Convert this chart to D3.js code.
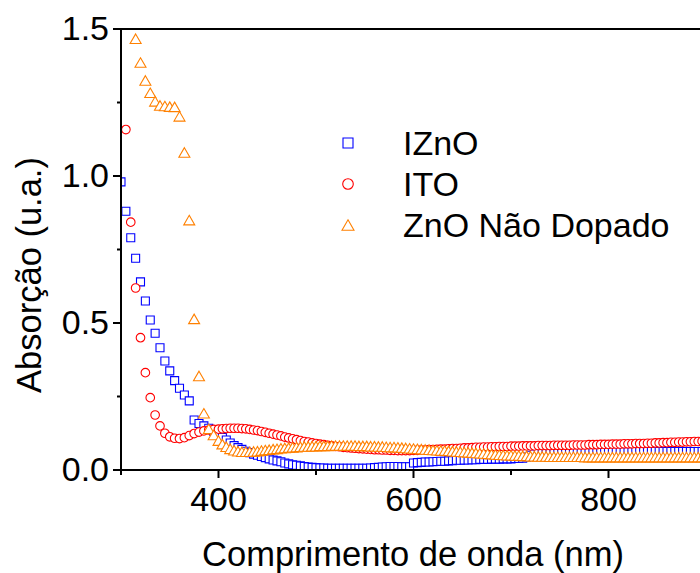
<!DOCTYPE html>
<html>
<head>
<meta charset="utf-8">
<script src="https://cdn.jsdelivr.net/npm/d3@7"></script>
<style>
  body { margin: 0; background: #fff; }
  text { font-family: "Liberation Sans", Arial, sans-serif; fill: #000; }
</style>
</head>
<body>
<div id="chart"></div>
<script>
// wavelengths (nm) - 5 nm steps up to 400, then 4 nm
const wavelength = [
  300,305,310,315,320,325,330,335,340,345,
  350,355,360,365,370,375,380,385,390,395,
  400,404,408,412,416,420,424,428,432,436,
  440,444,448,452,456,460,464,468,472,476,
  480,484,488,492,496,500,504,508,512,516,
  520,524,528,532,536,540,544,548,552,556,
  560,564,568,572,576,580,584,588,592,596,
  600,604,608,612,616,620,624,628,632,636,
  640,644,648,652,656,660,664,668,672,676,
  680,684,688,692,696,700,704,708,712,716,
  720,724,728,732,736,740,744,748,752,756,
  760,764,768,772,776,780,784,788,792,796,
  800,804,808,812,816,820,824,828,832,836,
  840,844,848,852,856,860,864,868,872,876,
  880,884,888,892,896,900
];

const izno = [
  0.98,0.88,0.79,0.72,0.64,0.575,0.51,0.465,0.416,0.371,
  0.337,0.304,0.278,0.255,0.235,0.170,0.158,0.150,0.142,0.132,
  0.121,0.111,0.102,0.092,0.083,0.076,0.070,0.064,0.059,0.054,
  0.050,0.046,0.042,0.038,0.034,0.031,0.028,0.024,0.021,0.018,
  0.016,0.014,0.012,0.010,0.009,0.008,0.007,0.007,0.006,0.006,
  0.006,0.006,0.006,0.006,0.006,0.006,0.006,0.006,0.006,0.007,
  0.008,0.009,0.010,0.011,0.012,0.012,0.012,0.011,0.011,0.011,
  0.024,0.025,0.026,0.027,0.027,0.028,0.029,0.030,0.030,0.031,
  0.032,0.033,0.033,0.034,0.034,0.035,0.035,0.036,0.036,0.036,
  0.037,0.037,0.037,0.038,0.038,0.038,0.039,0.039,0.040,0.044,
  0.050,0.055,0.059,0.061,0.061,0.061,0.061,0.061,0.062,0.062,
  0.062,0.062,0.062,0.062,0.062,0.062,0.062,0.062,0.062,0.062,
  0.062,0.062,0.062,0.062,0.062,0.062,0.062,0.063,0.063,0.063,
  0.063,0.063,0.063,0.063,0.063,0.063,0.063,0.063,0.063,0.063,
  0.063,0.063,0.063,0.063,0.063,0.063
];

const ito = [
  null,1.158,0.843,0.619,0.450,0.331,0.246,0.187,0.150,0.125,
  0.113,0.108,0.107,0.110,0.117,0.124,0.129,0.133,0.136,0.138,
  0.139,0.140,0.141,0.142,0.142,0.142,0.141,0.140,0.138,0.136,
  0.134,0.131,0.128,0.125,0.122,0.119,0.116,0.112,0.109,0.106,
  0.103,0.100,0.097,0.095,0.092,0.090,0.088,0.086,0.084,0.082,
  0.080,0.079,0.077,0.076,0.075,0.074,0.073,0.072,0.071,0.070,
  0.069,0.069,0.068,0.068,0.067,0.067,0.066,0.066,0.066,0.066,
  0.067,0.067,0.068,0.068,0.069,0.069,0.070,0.071,0.071,0.072,
  0.073,0.073,0.074,0.075,0.075,0.076,0.077,0.077,0.078,0.078,
  0.079,0.079,0.080,0.080,0.080,0.081,0.081,0.081,0.082,0.082,
  0.082,0.082,0.083,0.083,0.083,0.083,0.084,0.084,0.084,0.084,
  0.084,0.085,0.085,0.085,0.085,0.086,0.086,0.086,0.087,0.087,
  0.087,0.088,0.088,0.088,0.089,0.089,0.089,0.090,0.090,0.090,
  0.091,0.091,0.092,0.092,0.093,0.093,0.094,0.094,0.095,0.095,
  0.096,0.096,0.097,0.097,0.098,0.099
];

const znoPuro = [
  null,null,null,1.467,1.386,1.325,1.283,1.254,1.240,1.238,
  1.236,1.235,1.203,1.080,0.850,0.514,0.320,0.193,0.140,0.119,
  0.100,0.088,0.079,0.072,0.067,0.064,0.062,0.062,0.062,0.063,
  0.064,0.066,0.068,0.069,0.071,0.072,0.074,0.075,0.076,0.077,
  0.078,0.079,0.080,0.080,0.081,0.081,0.082,0.082,0.082,0.083,
  0.083,0.083,0.083,0.083,0.083,0.083,0.082,0.082,0.082,0.081,
  0.081,0.080,0.080,0.079,0.078,0.078,0.077,0.076,0.075,0.074,
  0.073,0.072,0.071,0.070,0.069,0.068,0.067,0.066,0.066,0.065,
  0.064,0.063,0.062,0.061,0.060,0.059,0.058,0.057,0.056,0.055,
  0.054,0.053,0.052,0.051,0.050,0.050,0.049,0.049,0.048,0.048,
  0.047,0.047,0.046,0.046,0.046,0.045,0.045,0.045,0.045,0.045,
  0.045,0.045,0.045,0.045,0.044,0.044,0.044,0.044,0.044,0.044,
  0.044,0.044,0.044,0.044,0.044,0.044,0.044,0.044,0.044,0.044,
  0.044,0.044,0.044,0.044,0.044,0.044,0.044,0.044,0.044,0.044,
  0.044,0.044,0.044,0.044,0.044,0.044
];

const seriesNames = ["IZnO", "ITO", "ZnO Não Dopado"];
const seriesColors = ["#0000ff", "#ff0000", "#ff8000"];
const seriesShapes = ["square", "circle", "triangle"];
const xTicks = [400, 600, 800];
const yTicks = [0, 0.5, 1.0, 1.5];

const margin = { top: 29, left: 121 },
    width = 585,
    height = 441;

const svg = d3.select("#chart")
    .append("svg")
    .attr("width", 700)
    .attr("height", 573);

const g = svg.append("g")
    .attr("transform", `translate(${margin.left},${margin.top})`);

const x = d3.scaleLinear().domain([300, 900]).range([0, width]);
const y = d3.scaleLinear().domain([0, 1.5]).range([height, 0]);

g.append("clipPath").attr("id", "plot-clip")
    .append("rect")
    .attr("x", 0).attr("y", 0)
    .attr("width", width).attr("height", height);

// marker path centred on the point
function marker(shape, s) {
    if (shape === "square") return `M${-s/2},${-s/2}h${s}v${s}h${-s}Z`;
    if (shape === "circle") return d3.symbol(d3.symbolCircle, Math.PI * s * s / 4)();
    const h = s * Math.sqrt(3) / 2;
    return `M0,${-h/2}L${s/2},${h/2}L${-s/2},${h/2}Z`;
}
const markerSize = [8, 8.6, 11];

const plot = g.append("g").attr("clip-path", "url(#plot-clip)");

[izno, ito, znoPuro].forEach((vals, i) => {
    const pts = wavelength.map((w, j) => ({ w: w, v: vals[j] })).filter(d => d.v !== null);
    plot.append("g").selectAll("path")
        .data(pts)
        .enter().append("path")
        .attr("transform", d => `translate(${x(d.w)},${y(d.v)})`)
        .attr("d", marker(seriesShapes[i], markerSize[i]))
        .attr("fill", "#fff")
        .attr("stroke", seriesColors[i])
        .attr("stroke-width", 1.1);
});

// frame top line
g.append("line")
    .attr("x1", 0).attr("x2", width)
    .attr("y1", 0).attr("y2", 0)
    .attr("stroke", "#000").attr("stroke-width", 2);
g.append("line")
    .attr("x1", width).attr("x2", width)
    .attr("y1", 0).attr("y2", height)
    .attr("stroke", "#000").attr("stroke-width", 2);

// minor ticks
g.append("g")
    .attr("class", "x-minor")
    .attr("transform", `translate(0,${height})`)
    .call(d3.axisBottom(x).tickValues([300, 500, 700, 900]).tickSize(5).tickSizeOuter(0).tickFormat("").offset(0));
g.append("g")
    .attr("class", "y-minor")
    .call(d3.axisLeft(y).tickValues([0.25, 0.75, 1.25]).tickSize(4).tickSizeOuter(0).tickFormat("").offset(0));

g.append("g")
    .attr("class", "x-axis")
    .attr("transform", `translate(0,${height})`)
    .call(d3.axisBottom(x).tickValues(xTicks).tickSize(8).tickPadding(9).tickSizeOuter(0).offset(0));

g.append("g")
    .attr("class", "y-axis")
    .call(d3.axisLeft(y).tickValues(yTicks).tickSize(8).tickPadding(4).tickSizeOuter(0)
        .tickFormat(d3.format(".1f")).offset(0));

g.selectAll(".domain, .tick line").attr("stroke", "#000").attr("stroke-width", 2);
g.selectAll(".tick text").style("font-size", "34px").style("font-family", "Liberation Sans, Arial, sans-serif").attr("fill", "#000");

// axis titles
svg.append("text")
    .attr("text-anchor", "middle")
    .attr("x", 413)
    .attr("y", 566)
    .style("font-size", "34.5px")
    .text("Comprimento de onda (nm)");

svg.append("text")
    .attr("text-anchor", "middle")
    .attr("transform", "translate(41,275) rotate(-90)")
    .style("font-size", "34.5px")
    .text("Absorção (u.a.)");

// legend
const legend = svg.append("g").attr("transform", "translate(348,143)");
seriesNames.forEach((name, i) => {
    const row = legend.append("g").attr("transform", `translate(0,${i * 41})`);
    row.append("path")
        .attr("d", marker(seriesShapes[i], [10, 10.6, 12][i]))
        .attr("fill", "#fff")
        .attr("stroke", seriesColors[i])
        .attr("stroke-width", 1.1);
    row.append("text")
        .attr("x", 55)
        .attr("y", 12)
        .style("font-size", "34px")
        .text(name);
});
</script>
</body>
</html>
